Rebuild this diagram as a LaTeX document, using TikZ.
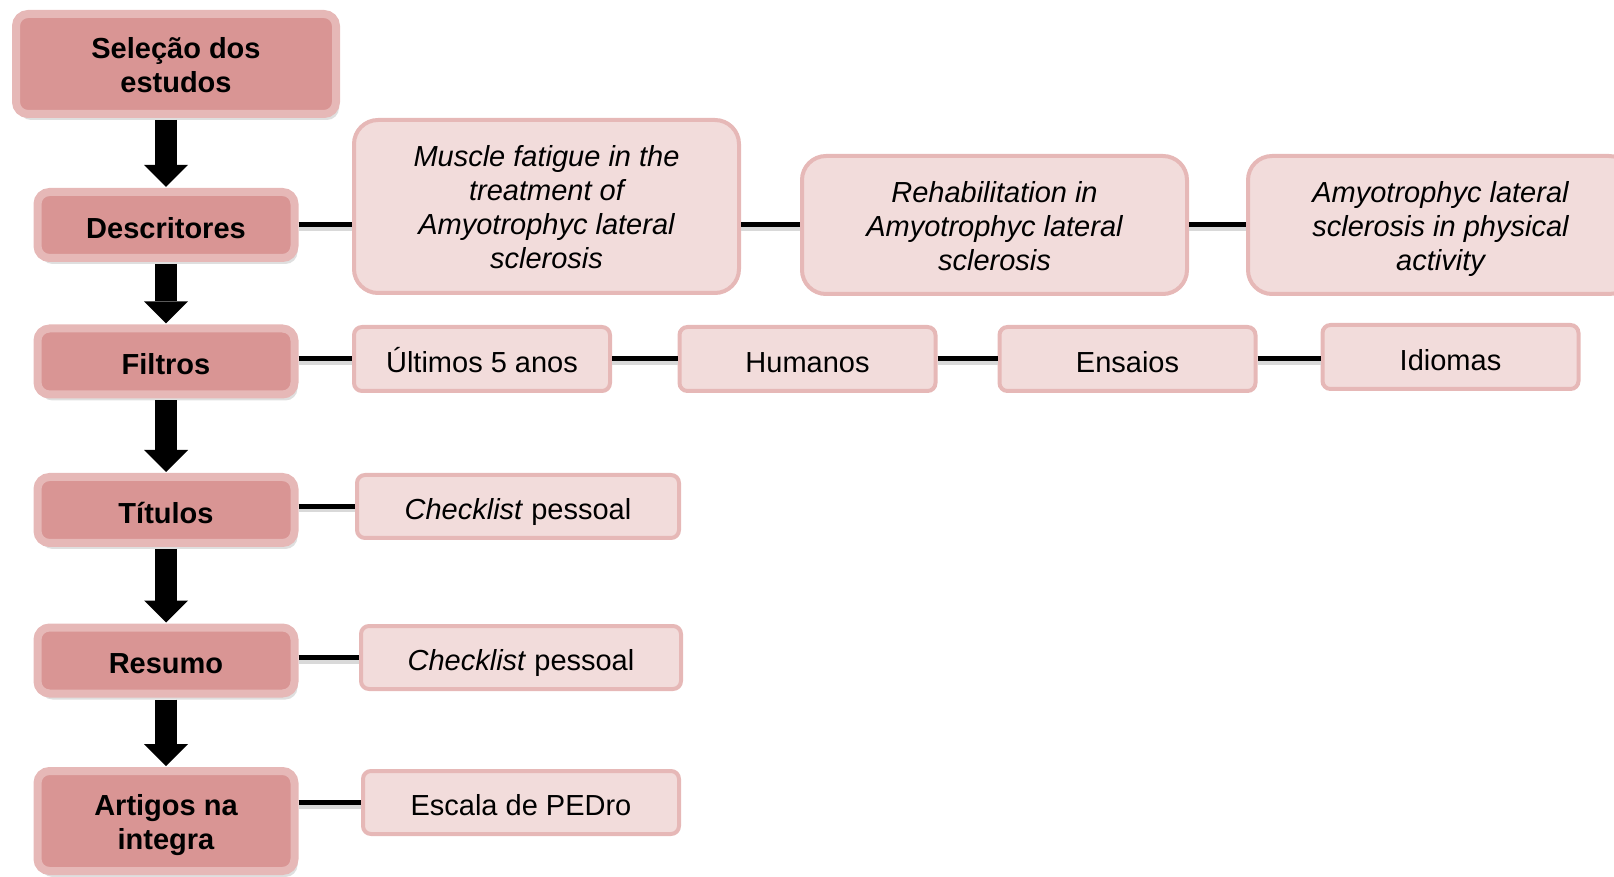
\documentclass[tikz,border=0pt]{standalone}
\usepackage{fontspec}
\setmainfont{Liberation Sans}
\usetikzlibrary{arrows.meta,shadows}
\definecolor{etapafill}{HTML}{D99594}
\definecolor{borda}{HTML}{E6B8B7}
\definecolor{itemfill}{HTML}{F2DCDB}
\newcommand\escora{\rule[-3.2pt]{0pt}{19.8pt}}
\newcommand\topo{\rule{0pt}{14.6pt}}
\begin{document}
\begin{tikzpicture}[x=0.5pt,y=-0.5pt,
    every node/.style={inner sep=0pt, align=center, font=\fontsize{14.5}{17}\selectfont,
        execute at begin node=\escora, execute at end node=\escora},
    etapa/.style={draw=borda, line width=4pt, fill=etapafill, rounded corners=6pt,
        minimum width=128.5pt, minimum height=33pt,
        font=\fontsize{14.5}{17}\selectfont\bfseries,
        drop shadow={shadow xshift=1.5pt, shadow yshift=-3pt, fill=black!25}},
    item/.style={draw=borda, line width=2pt, fill=itemfill, rounded corners=4pt,
        minimum width=128pt, minimum height=32pt},
    termo/.style={item, rounded corners=12pt, minimum width=192.5pt, minimum height=69pt,
        font=\fontsize{14.5}{17}\selectfont\itshape},
    liga/.style={line width=2.5pt,
        preaction={draw=black!15, line width=2pt, transform canvas={yshift=-2pt}}},
    seta/.style={line width=11pt, -{Triangle[width=22pt,length=11pt,line width=0pt]},
        shorten <=1pt, shorten >=0.5pt}]
    \useasboundingbox (0,0) rectangle (1614,877);
    % etapas
    \node[etapa, minimum width=160pt, minimum height=50pt] (sel) at (176,64) {\topo Seleção dos\\estudos};
    \node[etapa] (desc) at (166,225) {Descritores};
    \node[etapa] (filt) at (166,361.5) {Filtros};
    \node[etapa] (tit) at (166,510) {Títulos};
    \node[etapa] (res) at (166,660.5) {Resumo};
    \node[etapa, minimum height=50pt] (art) at (166,821) {\topo Artigos na\\integra};
    % descritores
    \node[termo, minimum height=86.5pt] (musc) at (546.5,206.5) {\topo Muscle fatigue in the\\treatment of\\Amyotrophyc lateral\\sclerosis};
    \node[termo] (reab) at (994.5,225) {\topo Rehabilitation in\\Amyotrophyc lateral\\sclerosis};
    \node[termo] (amio) at (1440.5,225) {\topo Amyotrophyc lateral\\sclerosis in physical\\activity};
    % filtros
    \node[item] (ult) at (482,359) {Últimos 5 anos};
    \node[item] (hum) at (807.5,359) {Humanos};
    \node[item] (ens) at (1127.5,359) {Ensaios};
    \node[item] (idi) at (1450.5,357) {Idiomas};
    % demais
    \node[item, minimum width=161pt, minimum height=31.5pt] (chk1) at (518,506.5) {\textit{Checklist} pessoal};
    \node[item, minimum width=160pt, minimum height=31.5pt] (chk2) at (521,657.5) {\textit{Checklist} pessoal};
    \node[item, minimum width=158pt, minimum height=31.5pt] (esc) at (521,802.5) {Escala de PEDro};
    % setas
    \draw[seta] (sel.south -| desc.north) -- (desc.north);
    \draw[seta] (desc.south) -- (filt.north);
    \draw[seta] (filt.south) -- (tit.north);
    \draw[seta] (tit.south) -- (res.north);
    \draw[seta] (res.south) -- (art.north);
    % ligacoes
    \draw[liga] (desc.east) -- (desc.east -| musc.west);
    \draw[liga] (musc.east |- reab.west) -- (reab.west);
    \draw[liga] (reab.east) -- (amio.west);
    \draw[liga] (filt.east |- ult.west) -- (ult.west);
    \draw[liga] (ult.east) -- (hum.west);
    \draw[liga] (hum.east) -- (ens.west);
    \draw[liga] (ens.east) -- (ens.east -| idi.west);
    \draw[liga] (tit.east |- chk1.west) -- (chk1.west);
    \draw[liga] (res.east |- chk2.west) -- (chk2.west);
    \draw[liga] (art.east |- esc.west) -- (esc.west);
\end{tikzpicture}
\end{document}
